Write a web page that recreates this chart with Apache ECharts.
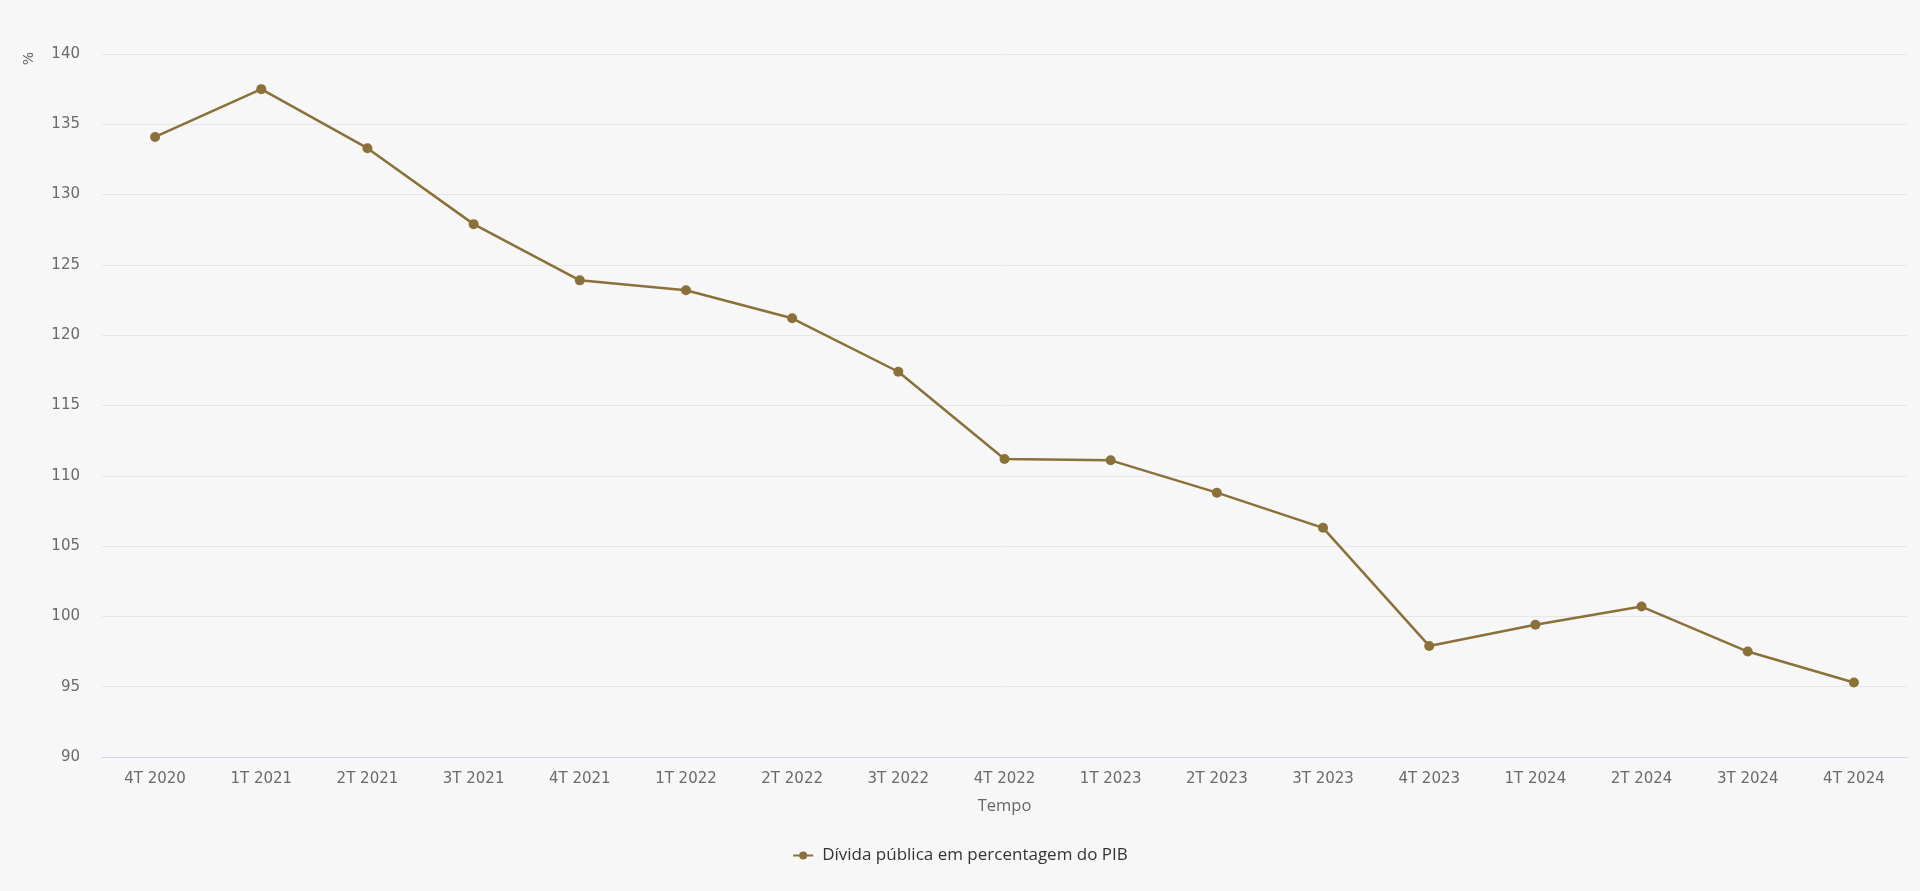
<!DOCTYPE html>
<html><head><meta charset="utf-8">
<script src="https://cdn.jsdelivr.net/npm/echarts@6/dist/echarts.min.js"></script>
<style>html,body{margin:0;padding:0;background:#f7f7f7}#c{width:1920px;height:891px}</style>
</head><body><div id="c"></div>
<script>
const categories = ['4T 2020','1T 2021','2T 2021','3T 2021','4T 2021','1T 2022','2T 2022','3T 2022','4T 2022','1T 2023','2T 2023','3T 2023','4T 2023','1T 2024','2T 2024','3T 2024','4T 2024'];
const debtValues = [134.1,137.5,133.3,127.9,123.9,123.2,121.2,117.4,111.2,111.1,108.8,106.3,97.9,99.4,100.7,97.5,95.3];
const seriesName = 'Dívida pública em percentagem do PIB';
const xTitle = 'Tempo';
const yUnit = '%';

const chart = echarts.init(document.getElementById('c'));
chart.setOption({
  backgroundColor: '#f7f7f7',
  animation: false,
  grid: {left: 102, right: 13, top: 54, bottom: 134},
  graphic: [{type: 'text', left: 22, top: 52, rotation: Math.PI/2,
    style: {text: yUnit, fill: '#666', font: '14px "DejaVu Sans"'}}],
  legend: {bottom: 22, left: 'center', data: [seriesName], itemWidth: 20, itemHeight: 10, itemGap: 10,
    textStyle: {fontFamily: 'Open Sans', fontSize: 17, color: '#333', padding: [0, 0, 0, 4]}},
  xAxis: {type: 'category', data: categories, boundaryGap: true,
    name: xTitle, nameLocation: 'middle', nameGap: 41,
    nameTextStyle: {fontFamily: 'Open Sans', fontSize: 16.5, color: '#666'},
    axisLine: {lineStyle: {color: '#ccd6eb'}}, axisTick: {show: false},
    axisLabel: {fontFamily: 'DejaVu Sans', fontSize: 15, color: '#6a6a6a', margin: 15}},
  yAxis: {type: 'value', min: 90, max: 140, interval: 5,
    axisLine: {show: false}, axisTick: {show: false},
    splitLine: {lineStyle: {color: '#e6e6e6'}},
    axisLabel: {fontFamily: 'DejaVu Sans', fontSize: 15, color: '#6a6a6a', margin: 22}},
  series: [{name: seriesName, type: 'line', data: debtValues,
    symbol: 'circle', symbolSize: 10,
    lineStyle: {color: '#8b7139', width: 2.5}, itemStyle: {color: '#8b7139'}}]
});
</script></body></html>
